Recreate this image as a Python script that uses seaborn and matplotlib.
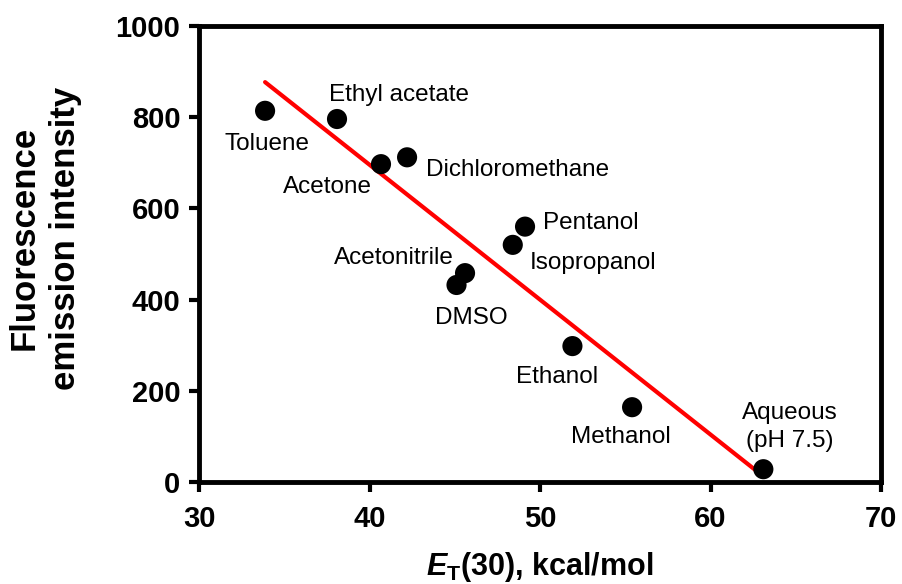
import matplotlib
matplotlib.use("Agg")
import matplotlib.pyplot as plt
import seaborn as sns
import pandas as pd

# Solvent polarity (ET(30), kcal/mol) vs. fluorescence emission intensity
solvents = ["Toluene", "Ethyl acetate", "Acetone", "Dichloromethane", "Pentanol",
            "Isopropanol", "Acetonitrile", "DMSO", "Ethanol", "Methanol",
            "Aqueous\n(pH 7.5)"]
et30 = [33.87, 38.09, 40.67, 42.2, 49.12, 48.4, 45.6, 45.1, 51.9, 55.4, 63.1]
intensity = [814, 796, 697, 712, 560, 520, 458, 432, 298, 164, 28]

# label anchor (x, y, horizontal alignment) for each solvent name
label_x = [31.47, 37.62, 34.89, 43.31, 50.16, 49.41, 44.92, 43.84, 48.57, 51.82, 64.66]
label_y = [729, 836, 634, 671, 554, 468, 477, 346, 216, 85, 77]
label_ha = ["left", "left", "left", "left", "left", "left", "right", "left",
            "left", "left", "center"]

xticks = [30, 40, 50, 60, 70]
yticks = [0, 200, 400, 600, 800, 1000]

df = pd.DataFrame({"solvent": solvents, "et30": et30, "intensity": intensity})

sns.set_style("ticks")
plt.rcParams["font.family"] = ["Liberation Sans", "DejaVu Sans"]
plt.rcParams["mathtext.fontset"] = "custom"
plt.rcParams["mathtext.rm"] = "Liberation Sans:bold"
plt.rcParams["mathtext.bf"] = "Liberation Sans:bold"
plt.rcParams["mathtext.it"] = "Liberation Sans:bold:italic"
for key in ["text.color", "axes.labelcolor", "xtick.color", "ytick.color",
            "xtick.labelcolor", "ytick.labelcolor"]:
    plt.rcParams[key] = "black"

fig = plt.figure(figsize=(9.03, 5.84), dpi=100)
ax = fig.add_axes([0.2205, 0.1747, 0.7551, 0.7808])

sns.regplot(data=df, x="et30", y="intensity", ax=ax, scatter=False, ci=None,
            truncate=True, line_kws={"color": "#ff0000", "lw": 3, "zorder": 2})
sns.scatterplot(data=df, x="et30", y="intensity", ax=ax, color="black", s=210,
                edgecolor="none", zorder=3)

for name, lx, ly, ha in zip(solvents, label_x, label_y, label_ha):
    ax.text(lx, ly, name, ha=ha, va="baseline", multialignment="center",
            fontsize=17.5, color="black", linespacing=1.36)

ax.set_xlim(30, 70)
ax.set_ylim(0, 1000)
ax.set_xticks(xticks)
ax.set_yticks(yticks)

for side in ["left", "right", "top", "bottom"]:
    ax.spines[side].set_visible(True)
    ax.spines[side].set_linewidth(3.5)
    ax.spines[side].set_color("black")

ax.tick_params(axis="both", direction="out", length=7.5, width=3, labelsize=21,
               color="black", labelcolor="black")
ax.tick_params(axis="x", pad=9)
ax.tick_params(axis="y", pad=6)
for lab in ax.get_xticklabels() + ax.get_yticklabels():
    lab.set_fontweight("bold")

ax.set_xlabel(r"$\mathit{E}_{\mathrm{T}}$(30), kcal/mol", fontsize=22,
              fontweight="bold", labelpad=12, color="black")
ax.set_ylabel("Fluorescence\nemission intensity", fontsize=25,
              fontweight="bold", linespacing=1.3, color="black")
ax.yaxis.set_label_coords(-0.172, 0.535)

fig.savefig("out.png", dpi=100)
